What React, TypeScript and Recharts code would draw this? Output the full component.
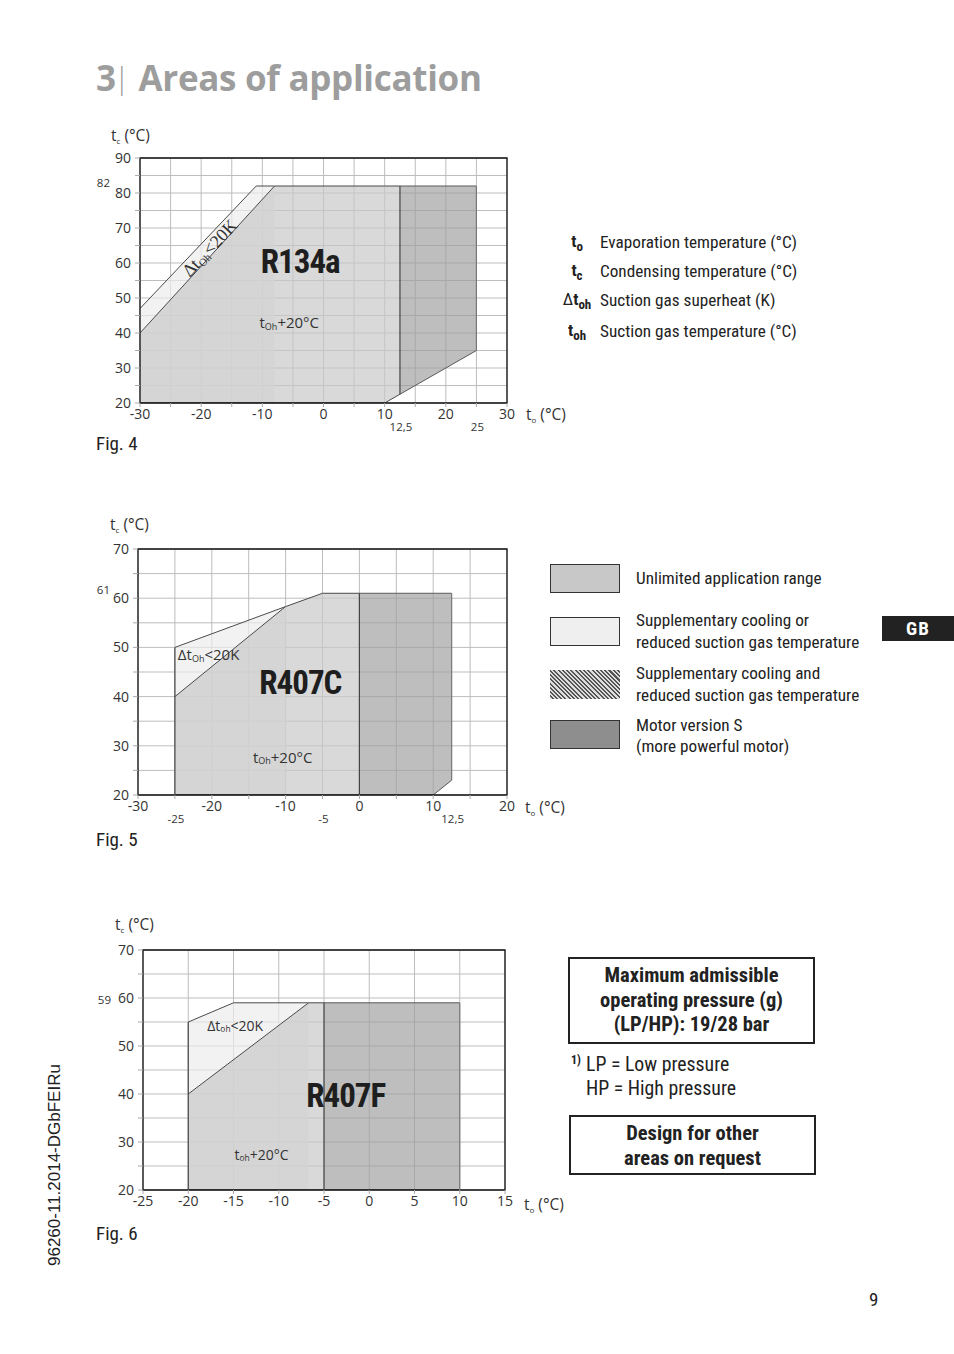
import React from 'react';
import {
  ComposedChart,
  Area,
  XAxis,
  YAxis,
  CartesianGrid,
  ReferenceArea,
  ReferenceLine,
  ReferenceDot,
} from 'recharts';

const NARROW = "'Liberation Sans Narrow', 'Roboto Condensed', 'DejaVu Sans Condensed', Roboto, sans-serif";
const FRUT = "'Open Sans', 'Noto Sans', sans-serif";

// ---------- Fig. 4  R134a ----------
const r134aX = [-30, -11, -8, 10, 12.5, 25];
const r134aStrip = [[20, 47], [20, 82], [20, 82], null, null, null];
const r134aMain = [[20, 40], null, [20, 82], [20, 82], [22.5, 82], null];
const r134aMotorS = [null, null, null, null, [22.5, 82], [35, 82]];
const r134aXTicks = [-30, -25, -20, -15, -10, -5, 0, 5, 10, 15, 20, 25, 30];
const r134aXLabels = [-30, -20, -10, 0, 10, 20, 30];
const r134aYTicks = [20, 25, 30, 35, 40, 45, 50, 55, 60, 65, 70, 75, 80, 85, 90];
const r134aYLabels = [20, 30, 40, 50, 60, 70, 80, 90];
const r134aEdges = [[12.5, 22.5, 82], [25, 35, 82]];
const r134aExtraX = [12.5, 25];
const r134aExtraXText = ['12,5', '25'];
const r134aExtraY = [82];

// ---------- Fig. 5  R407C ----------
const r407cX = [-25, -10, -5, 0, 10, 12.5];
const r407cStrip = [[20, 50], [20, 58.3], null, null, null, null];
const r407cMain = [[20, 40], [20, 58.3], [20, 61], [20, 61], null, null];
const r407cMotorS = [null, null, null, [20, 61], [20, 61], [23, 61]];
const r407cXTicks = [-30, -25, -20, -15, -10, -5, 0, 5, 10, 15, 20];
const r407cXLabels = [-30, -20, -10, 0, 10, 20];
const r407cYTicks = [20, 25, 30, 35, 40, 45, 50, 55, 60, 65, 70];
const r407cYLabels = [20, 30, 40, 50, 60, 70];
const r407cEdges = [[-25, 20, 50], [0, 20, 61], [12.5, 23, 61]];
const r407cExtraX = [-25, -5, 12.5];
const r407cExtraXText = ['-25', '-5', '12,5'];
const r407cExtraY = [61];

// ---------- Fig. 6  R407F ----------
const r407fX = [-20, -15, -6.7, -5, 10];
const r407fStrip = [[20, 55], [20, 59], [20, 59], null, null];
const r407fMain = [[20, 40], null, [20, 59], [20, 59], null];
const r407fMotorS = [null, null, null, [20, 59], [20, 59]];
const r407fXTicks = [-25, -20, -15, -10, -5, 0, 5, 10, 15];
const r407fXLabels = [-25, -20, -15, -10, -5, 0, 5, 10, 15];
const r407fYTicks = [20, 25, 30, 35, 40, 45, 50, 55, 60, 65, 70];
const r407fYLabels = [20, 30, 40, 50, 60, 70];
const r407fEdges = [[-20, 20, 55], [-5, 20, 59], [10, 20, 59]];
const r407fExtraX: number[] = [];
const r407fExtraXText: string[] = [];
const r407fExtraY = [59];

const buildRows = (xs: number[], strip: any[], main: any[], motor: any[]) =>
  xs.map((x, i) => ({ x, strip: strip[i], main: main[i], motor: motor[i] }));

const at = (render: (cx: number, cy: number) => React.ReactNode) => (props: any) => {
  const vb = props.viewBox || {};
  const cx = (vb.x ?? 0) + (vb.width ?? 0) / 2;
  const cy = (vb.y ?? 0) + (vb.height ?? 0) / 2;
  return <g>{render(cx, cy)}</g>;
};

const Sub = ({ base, sub, rest, size }: any) => (
  <>
    <tspan>{base}</tspan>
    <tspan fontSize={size * 0.6} dy={size * 0.25}>{sub}</tspan>
    <tspan dy={-size * 0.25}>{rest}</tspan>
  </>
);

type Frame = { top: number; height: number; mt: number; mr: number; mb: number; ml: number };

function RegionChart(props: {
  rows: any[];
  xTicks: number[];
  xLabels: number[];
  yTicks: number[];
  yLabels: number[];
  edges: number[][];
  extraX: number[];
  extraXText: string[];
  extraY: number[];
  extraYDx: number;
  frame: Frame;
  notes: React.ReactNode[];
}) {
  const { rows, xTicks, xLabels, yTicks, yLabels, edges, extraX, extraXText, extraY, frame } = props;
  const xd: [number, number] = [xTicks[0], xTicks[xTicks.length - 1]];
  const yd: [number, number] = [yTicks[0], yTicks[yTicks.length - 1]];
  const tickStyle = { fontSize: 14, fill: '#333', fontFamily: FRUT };
  return (
    <div style={{ position: 'absolute', left: 0, top: frame.top }}>
      <ComposedChart
        width={600}
        height={frame.height}
        data={rows}
        margin={{ top: frame.mt, right: frame.mr, bottom: frame.mb, left: frame.ml }}
      >
        <CartesianGrid stroke="#bdbdbd" strokeWidth={1} />
        <XAxis
          dataKey="x"
          type="number"
          domain={xd}
          ticks={xTicks}
          interval={0}
          allowDataOverflow
          axisLine={false}
          tickLine={{ stroke: '#aaa' }}
          tickSize={4}
          tickMargin={2}
          height={30}
          tick={tickStyle}
          tickFormatter={(v: number) => (xLabels.includes(v) ? String(v) : '')}
        />
        <YAxis
          type="number"
          domain={yd}
          ticks={yTicks}
          interval={0}
          allowDataOverflow
          axisLine={false}
          tickLine={{ stroke: '#aaa' }}
          tickSize={5}
          tickMargin={4}
          width={40}
          tick={tickStyle}
          tickFormatter={(v: number) => (yLabels.includes(v) ? String(v) : '')}
        />
        <Area
          dataKey="strip"
          type="linear"
          connectNulls
          stroke="#4a4a4a"
          strokeWidth={1}
          fill="#ececec"
          fillOpacity={0.7}
          dot={false}
          activeDot={false}
          isAnimationActive={false}
        />
        <Area
          dataKey="main"
          type="linear"
          connectNulls
          stroke="#4a4a4a"
          strokeWidth={1}
          fill="#c9c9c9"
          fillOpacity={0.7}
          dot={false}
          activeDot={false}
          isAnimationActive={false}
        />
        <Area
          dataKey="motor"
          type="linear"
          connectNulls
          stroke="#5a5a5a"
          strokeWidth={1}
          fill="#9e9e9e"
          fillOpacity={0.67}
          dot={false}
          activeDot={false}
          isAnimationActive={false}
        />
        {edges.map((e, i) => (
          <ReferenceLine
            key={'e' + i}
            segment={[{ x: e[0], y: e[1] }, { x: e[0], y: e[2] }]}
            stroke={i === edges.length - 1 ? '#777' : '#444'}
            strokeWidth={1.2}
            ifOverflow="visible"
          />
        ))}
        <ReferenceArea
          x1={xd[0]}
          x2={xd[1]}
          y1={yd[0]}
          y2={yd[1]}
          fill="none"
          stroke="#111"
          strokeWidth={1.3}
          ifOverflow="visible"
        />
        {extraX.map((v, i) => (
          <ReferenceDot
            key={'ex' + i}
            x={v}
            y={yd[0]}
            r={1}
            fill="none"
            stroke="none"
            ifOverflow="visible"
            label={at((cx, cy) => (
              <text x={cx + 1} y={cy + 28} textAnchor="middle" fontSize={11.5} fill="#333" fontFamily={FRUT}>
                {extraXText[i]}
              </text>
            ))}
          />
        ))}
        {extraY.map((v, i) => (
          <ReferenceDot
            key={'ey' + i}
            x={xd[0]}
            y={v}
            r={1}
            fill="none"
            stroke="none"
            ifOverflow="visible"
            label={at((cx, cy) => (
              <text x={cx + props.extraYDx} y={cy + 1} textAnchor="end" fontSize={11.5} fill="#333" fontFamily={FRUT}>
                {v}
              </text>
            ))}
          />
        ))}
        {props.notes}
      </ComposedChart>
    </div>
  );
}

const bigName = (name: string, x: number, y: number) => (
  <ReferenceDot
    key={name}
    x={x}
    y={y}
    r={1}
    fill="none"
    stroke="none"
    ifOverflow="visible"
    label={at((cx, cy) => (
      <text
        x={cx}
        y={cy}
        textAnchor="middle"
        dominantBaseline="central"
        fontSize={33}
        fontWeight={700}
        fill="#1e1e1e"
        fontFamily={NARROW}
        letterSpacing={-1}
      >
        {name}
      </text>
    ))}
  />
);

const subNote = (key: string, base: string, sub: string, rest: string, x: number, y: number, anchor: string, size = 15) => (
  <ReferenceDot
    key={key}
    x={x}
    y={y}
    r={1}
    fill="none"
    stroke="none"
    ifOverflow="visible"
    label={at((cx, cy) => (
      <text x={cx} y={cy} textAnchor={anchor} dominantBaseline="central" fontSize={size} fill="#333" fontFamily={FRUT}>
        <Sub base={base} sub={sub} rest={rest} size={size} />
      </text>
    ))}
  />
);

const rotatedNote = (x: number, y: number) => (
  <ReferenceDot
    key="rot"
    x={x}
    y={y}
    r={1}
    fill="none"
    stroke="none"
    ifOverflow="visible"
    label={at((cx, cy) => (
      <text
        x={cx}
        y={cy}
        textAnchor="middle"
        dominantBaseline="central"
        fontSize={18}
        fill="#333"
        fontFamily="'Liberation Serif', 'DejaVu Serif', serif"
        transform={`rotate(-46.5 ${cx} ${cy})`}
      >
        <Sub base="Δt" sub="Oh" rest="<20K" size={18} />
      </text>
    ))}
  />
);

const abs = (left: number, top: number, extra: React.CSSProperties = {}): React.CSSProperties => ({
  position: 'absolute',
  left,
  top,
  whiteSpace: 'nowrap',
  ...extra,
});

const AxisTitle = ({ left, top, letter }: { left: number; top: number; letter: string }) => (
  <div style={abs(left, top, { fontFamily: FRUT, fontSize: 15.5, color: '#333', lineHeight: '16px' })}>
    t<span style={{ fontSize: 8, position: 'relative', top: 3 }}>{letter}</span> (°C)
  </div>
);

const swatches = [
  { top: 564, text: ['Unlimited application range'] },
  { top: 617, text: ['Supplementary cooling or', 'reduced suction gas temperature'] },
  { top: 670, text: ['Supplementary cooling and', 'reduced suction gas temperature'] },
  { top: 720, text: ['Motor version S', '(more powerful motor)'] },
];
const swatchFill = [
  { background: '#c8c8c8', border: '1.5px solid #333' },
  { background: '#efefef', border: '1.5px solid #333' },
  { background: 'repeating-linear-gradient(45deg, #dcdcdc 0px, #dcdcdc 1.5px, #555 1.5px, #555 3px)', border: 'none' },
  { background: '#8e8e8e', border: '1.5px solid #333' },
];

const symbols = [
  { sym: 'o', delta: false, text: 'Evaporation temperature (°C)', y: 242 },
  { sym: 'c', delta: false, text: 'Condensing temperature (°C)', y: 271 },
  { sym: 'oh', delta: true, text: 'Suction gas superheat (K)', y: 300 },
  { sym: 'oh', delta: false, text: 'Suction gas temperature (°C)', y: 331 },
];

export default function App() {
  const rows134 = buildRows(r134aX, r134aStrip, r134aMain, r134aMotorS);
  const rows407c = buildRows(r407cX, r407cStrip, r407cMain, r407cMotorS);
  const rows407f = buildRows(r407fX, r407fStrip, r407fMain, r407fMotorS);
  const bodyText: React.CSSProperties = { fontFamily: NARROW, fontSize: 19, color: '#222' };
  const LH = 21.5;
  return (
    <div
      style={{
        position: 'absolute',
        left: 0,
        top: 0,
        width: 954,
        height: 1354,
        background: '#fff',
        overflow: 'hidden',
        fontFamily: NARROW,
      }}
    >
      {/* Title */}
      <div style={abs(96, 54, { fontFamily: FRUT, fontSize: 35, fontWeight: 700, color: '#9d9d9d', letterSpacing: -0.3 })}>
        3<span style={{ fontWeight: 300, fontSize: 30, position: 'relative', top: -2, marginLeft: -2 }}>|</span> Areas of application
      </div>

      <RegionChart
        rows={rows134}
        xTicks={r134aXTicks}
        xLabels={r134aXLabels}
        yTicks={r134aYTicks}
        yLabels={r134aYLabels}
        edges={r134aEdges}
        extraX={r134aExtraX}
        extraXText={r134aExtraXText}
        extraY={r134aExtraY}
        extraYDx={-30}
        frame={{ top: 100, height: 340, mt: 58, mr: 93, mb: 7, ml: 100 }}
        notes={[
          bigName('R134a', -3.8, 60.3),
          subNote('n1', 't', 'Oh', '+20°C', -5.6, 43.1, 'middle'),
          rotatedNote(-18.6, 64.3),
        ]}
      />
      <RegionChart
        rows={rows407c}
        xTicks={r407cXTicks}
        xLabels={r407cXLabels}
        yTicks={r407cYTicks}
        yLabels={r407cYLabels}
        edges={r407cEdges}
        extraX={r407cExtraX}
        extraXText={r407cExtraXText}
        extraY={r407cExtraY}
        extraYDx={-28}
        frame={{ top: 500, height: 340, mt: 49, mr: 93, mb: 15, ml: 98 }}
        notes={[
          bigName('R407C', -8.0, 42.8),
          subNote('n2', 'Δt', 'Oh', '<20K', -24.6, 48.6, 'start'),
          subNote('n3', 't', 'Oh', '+20°C', -10.4, 27.8, 'middle'),
        ]}
      />
      <RegionChart
        rows={rows407f}
        xTicks={r407fXTicks}
        xLabels={r407fXLabels}
        yTicks={r407fYTicks}
        yLabels={r407fYLabels}
        edges={r407fEdges}
        extraX={r407fExtraX}
        extraXText={r407fExtraXText}
        extraY={r407fExtraY}
        extraYDx={-32}
        frame={{ top: 900, height: 340, mt: 50, mr: 95, mb: 20, ml: 103 }}
        notes={[
          bigName('R407F', -2.6, 39.6),
          subNote('n4', 'Δt', 'oh', '<20K', -17.9, 54.4, 'start', 14),
          subNote('n5', 't', 'oh', '+20°C', -11.9, 27.6, 'middle', 14),
        ]}
      />

      {/* axis titles */}
      <AxisTitle left={111} top={127} letter="c" />
      <AxisTitle left={526} top={406} letter="o" />
      <AxisTitle left={110} top={516} letter="c" />
      <AxisTitle left={525} top={799} letter="o" />
      <AxisTitle left={115} top={916} letter="c" />
      <AxisTitle left={524} top={1196} letter="o" />

      {/* Fig labels */}
      <div style={abs(96, 432, bodyText)}>Fig. 4</div>
      <div style={abs(96, 828, bodyText)}>Fig. 5</div>
      <div style={abs(96, 1222, bodyText)}>Fig. 6</div>

      {/* symbol legend */}
      {symbols.map((s, i) => (
        <React.Fragment key={i}>
          <div style={abs(547, s.y - 11, { width: 60, textAlign: 'center', fontFamily: NARROW, fontSize: 17, fontWeight: 700, color: '#222', lineHeight: '20px' })}>
            {s.delta ? <span style={{ fontWeight: 400 }}>Δ</span> : null}t
            <span style={{ fontSize: 13, position: 'relative', top: 4 }}>{s.sym}</span>
          </div>
          <div style={abs(600, s.y - 10, { fontFamily: NARROW, fontSize: 17.2, color: '#222', lineHeight: '20px' })}>{s.text}</div>
        </React.Fragment>
      ))}

      {/* area legend */}
      {swatches.map((s, i) => (
        <React.Fragment key={'sw' + i}>
          <div style={abs(550, s.top, { width: 70, height: 29, boxSizing: 'border-box', ...swatchFill[i] })} />
          <div
            style={abs(636, s.top + 14.5 - (s.text.length * LH) / 2 + (i === 3 ? 1.5 : 0), {
              fontFamily: NARROW,
              fontSize: 17.2,
              color: '#222',
              lineHeight: LH + 'px',
            })}
          >
            {s.text.map((t, j) => (
              <div key={j}>{t}</div>
            ))}
          </div>
        </React.Fragment>
      ))}

      {/* GB tab */}
      <div
        style={abs(882, 616, {
          width: 72,
          height: 25,
          background: '#222',
          color: '#fff',
          fontFamily: NARROW,
          fontWeight: 700,
          fontSize: 19,
          textAlign: 'center',
          lineHeight: '25px',
          letterSpacing: 1,
        })}
      >
        GB
      </div>

      {/* pressure box */}
      <div
        style={abs(568, 957, {
          width: 247,
          height: 87,
          boxSizing: 'border-box',
          border: '2px solid #222',
          textAlign: 'center',
          fontFamily: NARROW,
          fontWeight: 700,
          fontSize: 20.5,
          color: '#222',
          lineHeight: '24.5px',
          paddingTop: 4,
        })}
      >
        <div>Maximum admissible</div>
        <div>operating pressure (g)</div>
        <div>(LP/HP): 19/28 bar</div>
      </div>
      <div style={abs(571, 1053, { fontFamily: NARROW, fontSize: 12, fontWeight: 700, color: '#222' })}>1)</div>
      <div style={abs(586, 1053, { fontFamily: NARROW, fontSize: 19.8, color: '#222', lineHeight: '24px' })}>
        <div>LP = Low pressure</div>
        <div>HP = High pressure</div>
      </div>

      {/* request box */}
      <div
        style={abs(569, 1115, {
          width: 247,
          height: 60,
          boxSizing: 'border-box',
          border: '2px solid #222',
          textAlign: 'center',
          fontFamily: NARROW,
          fontWeight: 700,
          fontSize: 20.5,
          color: '#222',
          lineHeight: '24.5px',
          paddingTop: 4,
        })}
      >
        <div>Design for other</div>
        <div>areas on request</div>
      </div>

      {/* side code */}
      <div
        style={abs(46, 1266, {
          transform: 'rotate(-90deg)',
          transformOrigin: 'left top',
          fontFamily: "'Liberation Sans', Arial, sans-serif",
          fontSize: 17,
          color: '#222',
          lineHeight: '18px',
        })}
      >
        96260-11.2014-DGbFEIRu
      </div>

      {/* page number */}
      <div style={abs(869, 1288, { fontFamily: NARROW, fontSize: 19, color: '#222' })}>9</div>
    </div>
  );
}
